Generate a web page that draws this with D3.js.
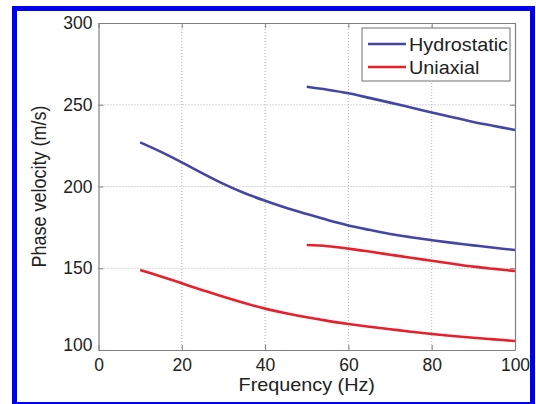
<!DOCTYPE html>
<html>
<head>
<meta charset="utf-8">
<script src="https://cdn.jsdelivr.net/npm/d3@7"></script>
<style>
  body { margin: 0; background: #fff; }
  text { font-family: "Liberation Sans", Arial, sans-serif; }
</style>
</head>
<body>
<div id="chart"></div>
<script>
const width = 536, height = 404;

// series data
const hydroLowX = [10, 15, 20, 25, 30, 35, 40, 45, 50, 55, 60, 65, 70, 75, 80, 85, 90, 95, 100];
const hydroLowY = [227, 221.2, 214.8, 208, 201.6, 196, 191.3, 187, 183.2, 179.5, 176.2, 173.5, 171, 169, 167.2, 165.5, 164, 162.5, 161.2];
const hydroHighX = [50, 55, 60, 65, 70, 75, 80, 85, 90, 95, 100];
const hydroHighY = [261, 259.2, 257, 254.2, 251.3, 248.3, 245.3, 242.3, 239.5, 237, 234.6];
const uniLowX = [10, 15, 20, 25, 30, 35, 40, 45, 50, 55, 60, 65, 70, 75, 80, 85, 90, 95, 100];
const uniLowY = [149, 145, 140.8, 136.6, 132.5, 128.7, 125.3, 122.5, 120, 117.8, 115.9, 114.2, 112.7, 111.2, 109.8, 108.6, 107.5, 106.5, 105.5];
const uniHighX = [50, 55, 60, 65, 70, 75, 80, 85, 90, 95, 100];
const uniHighY = [164.2, 163.5, 162, 160.2, 158.3, 156.4, 154.6, 152.8, 151, 149.6, 148.3];

const xTicks = [0, 20, 40, 60, 80, 100];
const yTicks = [100, 150, 200, 250, 300];
const legendNames = ['Hydrostatic', 'Uniaxial'];

const blue = '#4446a6', red = '#e8202c';
const stretch = 1.1; // the source picture is a bit wider than tall

const svg = d3.select('#chart').append('svg').attr('width', width).attr('height', height);

// outer blue frame
svg.append('rect')
    .attr('x', 14.5).attr('y', 8.5)
    .attr('width', 518).attr('height', 396)
    .attr('fill', 'none').attr('stroke', '#0000f0').attr('stroke-width', 5);

const plotL = 98.5, plotR = 515, plotT = 23, plotB = 350;
const x = d3.scaleLinear().domain([0, 100]).range([plotL, plotR]);
const y = d3.scaleLinear().domain([100, 300]).range([plotB, plotT]);

// grid
const grid = svg.append('g').attr('stroke', '#b0b0b0').attr('stroke-width', 1).attr('stroke-dasharray', '1,2');
grid.selectAll('.gx').data(xTicks.slice(1, -1)).enter().append('line')
    .attr('x1', d => x(d)).attr('x2', d => x(d)).attr('y1', plotT).attr('y2', plotB);
grid.selectAll('.gy').data(yTicks.slice(1, -1)).enter().append('line')
    .attr('x1', plotL).attr('x2', plotR).attr('y1', d => y(d)).attr('y2', d => y(d));

// axes (ticks inward, box)
const axisColor = '#808080';
const xAxis = svg.append('g').attr('transform', 'translate(0,' + plotB + ')')
    .call(d3.axisBottom(x).tickValues(xTicks).tickSizeInner(-5).tickSizeOuter(0).tickPadding(6));
const yAxis = svg.append('g').attr('transform', 'translate(' + plotL + ',0)')
    .call(d3.axisLeft(y).tickValues(yTicks).tickSizeInner(-5).tickSizeOuter(0).tickPadding(6));
const xTop = svg.append('g').attr('transform', 'translate(0,' + plotT + ')')
    .call(d3.axisTop(x).tickValues(xTicks).tickSizeInner(-5).tickSizeOuter(0).tickFormat(''));
const yRight = svg.append('g').attr('transform', 'translate(' + plotR + ',0)')
    .call(d3.axisRight(y).tickValues(yTicks).tickSizeInner(-5).tickSizeOuter(0).tickFormat(''));

[xAxis, yAxis, xTop, yRight].forEach(a => {
    a.select('.domain').attr('stroke', axisColor).attr('stroke-width', 1.2);
    a.selectAll('.tick line').attr('stroke', axisColor);
    a.selectAll('text').attr('fill', '#222').style('font-size', '17.5px')
        .style('font-family', '"Liberation Sans", Arial, sans-serif');
});
// matlab-ish: 100 sits slightly above the corner, 0 below it
yAxis.selectAll('.tick text').attr('dy', d => d === 100 ? '0.05em' : '0.32em');
xAxis.selectAll('.tick text').attr('dy', '0.85em');

// curves
const line = d3.line().x(d => x(d[0])).y(d => y(d[1])).curve(d3.curveCatmullRom.alpha(0.5));
const series = [
    { xs: hydroLowX, ys: hydroLowY, color: blue },
    { xs: hydroHighX, ys: hydroHighY, color: blue },
    { xs: uniLowX, ys: uniLowY, color: red },
    { xs: uniHighX, ys: uniHighY, color: red }
];
series.forEach(s => {
    svg.append('path')
        .datum(d3.zip(s.xs, s.ys))
        .attr('fill', 'none')
        .attr('stroke', s.color)
        .attr('stroke-width', 2.6)
        .attr('d', line);
});

// legend
const lg = svg.append('g');
lg.append('rect').attr('x', 362).attr('y', 28).attr('width', 148).attr('height', 53)
    .attr('fill', '#fff').attr('stroke', '#707070').attr('stroke-width', 1);
legendNames.forEach((name, i) => {
    const ly = 44 + i * 23;
    lg.append('line').attr('x1', 368).attr('x2', 406).attr('y1', ly).attr('y2', ly)
        .attr('stroke', i === 0 ? blue : red).attr('stroke-width', 2.4);
    lg.append('text')
        .attr('transform', 'translate(409,' + (ly + 6.5) + ') scale(' + stretch + ',1)')
        .style('font-size', '18px').attr('fill', '#222').text(name);
});

// axis labels
svg.append('text')
    .attr('transform', 'translate(' + (plotL + plotR) / 2 + ',391) scale(' + stretch + ',1)')
    .attr('text-anchor', 'middle')
    .style('font-size', '18px').attr('fill', '#222')
    .text('Frequency (Hz)');

svg.append('text')
    .attr('transform', 'translate(46,' + (plotT + plotB) / 2 + ') rotate(-90) scale(1,' + stretch + ')')
    .attr('text-anchor', 'middle')
    .style('font-size', '18px').attr('fill', '#222')
    .text('Phase velocity (m/s)');
</script>
</body>
</html>
